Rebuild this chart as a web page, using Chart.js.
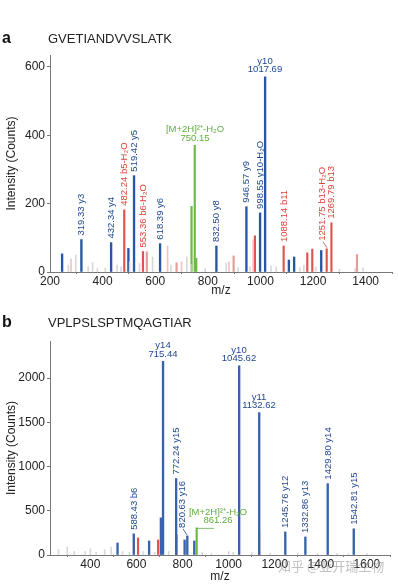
<!DOCTYPE html>
<html><head><meta charset="utf-8">
<script src="https://cdn.jsdelivr.net/npm/chart.js@4/dist/chart.umd.min.js"></script>
<style>
html,body{margin:0;padding:0;background:#fff;width:398px;height:586px;overflow:hidden;position:relative;font-family:"Liberation Sans",Arial,sans-serif;}
canvas{position:absolute;left:0;}
#ca{top:0;} #cb{top:300px;}
.pl{position:absolute;font-weight:bold;font-size:16px;line-height:20px;color:#111;}
.pt{position:absolute;font-size:13px;line-height:16px;color:#222;white-space:nowrap;}
.wm{position:absolute;left:278px;top:557px;font-family:"Noto Sans CJK SC",sans-serif;font-size:13px;line-height:18px;color:rgba(140,140,140,0.55);white-space:nowrap;}
</style></head>
<body>
<canvas id="ca" width="398" height="300"></canvas>
<canvas id="cb" width="398" height="286"></canvas>
<div class="pl" style="left:2px;top:28px">a</div>
<div class="pt" id="titleA" style="left:48px;top:31px"></div>
<div class="pl" style="left:2px;top:312px">b</div>
<div class="pt" id="titleB" style="left:48px;top:315px"></div>
<div class="wm">知乎 @亚开瑞生物</div>
<script>
// ---------- Panel a data ----------
const titleA = "GVETIANDVVSLATK";
const blueMzA  = [246, 319.33, 432.34, 498, 519.42, 618.39, 832.50, 946.57, 998.55, 1017.69, 1108, 1128, 1231];
const blueIntA = [53, 95, 86, 69, 282, 83, 76, 191, 173, 571, 35, 44, 63];
const redMzA   = [482.24, 553.36, 979, 1088.14, 1178, 1197, 1251.75, 1269.79];
const redIntA  = [182, 60, 106, 76, 56, 67, 68, 144];
const lightRedMzA  = [568, 681, 898, 1367];
const lightRedIntA = [59, 27, 47, 51];
const greenMzA  = [738, 750.15, 756];
const greenIntA = [192, 371, 40];
const pinkMzA  = [280, 647, 700, 880, 972];
const pinkIntA = [38, 76, 30, 30, 94];
const greyMzA  = [270, 298, 345, 362, 380, 410, 455, 470, 503, 540, 590, 660, 720, 735, 790, 870, 915, 960, 1040, 1060, 1150, 1165, 1210, 1300, 1360, 1390];
const greyIntA = [20, 50, 15, 27, 10, 12, 20, 15, 30, 25, 44, 20, 44, 22, 10, 26, 12, 15, 18, 15, 12, 20, 15, 8, 10, 12];
const xTicksA = [200, 400, 600, 800, 1000, 1200, 1400];
const yTicksA = [0, 200, 400, 600];
const labMzA   = [319.33, 432.34, 482.24, 519.42, 553.36, 618.39, 750.15, 832.50, 946.57, 998.55, 1017.69, 1088.14, 1251.75, 1269.79];
const labTextA = ["319.33 y3", "432.34 y4", "482.24 b5-H₂O", "519.42 y5", "553.36 b6-H₂O", "618.39 y6", "[M+2H]²⁺-H₂O|750.15", "832.50 y8", "946.57 y9", "998.55 y10-H₂O", "y10|1017.69", "1088.14 b11", "1251.75 b13-H₂O", "1269.79 b13"];
const labColA  = ["b","b","r","b","r","b","g","b","b","b","b","r","r","r"];
const labKindA = ["v","v","v","v","v","v","h","v","v","v","h","v","vs","v"];

// ---------- Panel b data ----------
const titleB = "VPLPSLSPTMQAGTIAR";
const blueMzB  = [518, 588.43, 655, 706, 715.44, 772.24, 809, 820.63, 851, 1045.62, 1132.62, 1245.76, 1332.86, 1429.80, 1542.81];
const blueIntB = [136, 239, 159, 420, 2190, 865, 170, 216, 159, 2140, 1610, 261, 204, 807, 296];
const redMzB   = [607, 694, 774, 1132];
const redIntB  = [193, 170, 230, 260];
const greenMzB  = [861.26];
const greenIntB = [307];
const greyMzB  = [262, 300, 330, 378, 400, 425, 462, 490, 540, 570, 630, 680, 740, 885, 925, 1000, 1020, 1100, 1180, 1300, 1385, 1470, 1520, 1600];
const greyIntB = [60, 90, 40, 40, 70, 30, 60, 90, 40, 30, 40, 30, 40, 30, 20, 40, 30, 30, 20, 20, 20, 20, 15, 20];
const xTicksB = [400, 600, 800, 1000, 1200, 1400, 1600];
const yTicksB = [0, 500, 1000, 1500, 2000];
const labMzB   = [588.43, 715.44, 772.24, 820.63, 861.26, 1045.62, 1132.62, 1245.76, 1332.86, 1429.80, 1542.81];
const labTextB = ["588.43 b6", "y14|715.44", "772.24 y15", "820.63 y16", "[M+2H]²⁺-H₂O|861.26", "y10|1045.62", "y11|1132.62", "1245.76 y12", "1332.86 y13", "1429.80 y14", "1542.81 y15"];
const labColB  = ["b","b","b","b","g","b","b","b","b","b","b"];
const labKindB = ["v","h","v","vs","hl","h","h","v","v","v","v"];

document.getElementById('titleA').textContent = titleA;
document.getElementById('titleB').textContent = titleB;

const FONT = '"Liberation Sans", Arial, sans-serif';
const COL = {b:'#1f4690', r:'#d9443c', g:'#5eae3c'};

function pts(mz, v){ return mz.map((m,i)=>({x:m, y:v[i]})); }
function ds(mz, v, color, w){
  return {data:pts(mz,v), backgroundColor:color, borderWidth:0, barThickness:w, grouped:false};
}

const peakLabels = {
  id:'peakLabels',
  afterDatasetsDraw(chart, args, o){
    const ctx = chart.ctx, xs = chart.scales.x, ys = chart.scales.y;
    const height = {};
    chart.data.datasets.forEach(d=>d.data.forEach(p=>{ if(!(p.x in height) || p.y>height[p.x]) height[p.x]=p.y; }));
    ctx.save();
    ctx.font = '9.5px ' + FONT;
    o.mz.forEach((mz,i)=>{
      const px = Math.round(xs.getPixelForValue(mz));
      const py = ys.getPixelForValue(height[mz]);
      const kind = o.kind[i];
      const color = COL[o.col[i]];
      ctx.fillStyle = color; ctx.strokeStyle = color; ctx.lineWidth = 0.8;
      if(kind==='v' || kind==='vs'){
        let start = py - 4, cx = px + 0.5;
        if(kind==='vs'){
          ctx.beginPath(); ctx.moveTo(px, py-1); ctx.lineTo(px-4, py-7); ctx.stroke();
          start = py - 8; cx = px - 4.5;
        }
        ctx.save(); ctx.translate(cx, start); ctx.rotate(-Math.PI/2);
        ctx.textAlign='left'; ctx.textBaseline='middle';
        ctx.fillText(o.text[i],0,0); ctx.restore();
      } else {
        const lines = o.text[i].split('|');
        let cx = px;
        if(kind==='hl'){
          ctx.beginPath(); ctx.moveTo(px, py+0.5); ctx.lineTo(px+17, py+0.5); ctx.stroke();
          cx = px + 21;
        }
        ctx.textAlign='center'; ctx.textBaseline='middle';
        ctx.fillText(lines[1], cx, py-7);
        ctx.fillText(lines[0], cx, py-15.5);
      }
    });
    ctx.restore();
  }
};

function makeChart(id, sets, xmin, xmax, xTicks, ymax, yTicks, pad, xh, labels){
  return new Chart(document.getElementById(id), {
    type:'bar',
    data:{datasets:sets},
    plugins:[peakLabels],
    options:{
      responsive:false, animation:false, devicePixelRatio:1,
      layout:{padding:pad},
      plugins:{legend:{display:false}, tooltip:{enabled:false}, peakLabels:labels},
      scales:{
        x:{type:'linear', min:xmin, max:xmax, offset:false,
           afterBuildTicks:s=>{ s.ticks = xTicks.map(v=>({value:v})); },
           afterFit:s=>{ s.height = xh; },
           ticks:{color:'#222', font:{family:FONT, size:12}, padding:0, maxRotation:0, autoSkip:false, callback:v=>String(v)},
           grid:{display:true, drawOnChartArea:false, tickLength:2, color:'#777'},
           border:{color:'#777', width:1},
           title:{display:true, text:'m/z', color:'#222', font:{family:FONT, size:12}, padding:{top:0, bottom:1.8}}},
        y:{type:'linear', min:0, max:ymax,
           afterBuildTicks:s=>{ s.ticks = yTicks.map(v=>({value:v})); },
           afterFit:s=>{ s.width = 50; },
           ticks:{color:'#222', font:{family:FONT, size:12}, padding:2, callback:v=>String(v)},
           grid:{display:true, drawOnChartArea:false, tickLength:3, color:'#777'},
           border:{color:'#777', width:1},
           title:{display:true, text:'Intensity (Counts)', color:'#222', font:{family:FONT, size:12}, padding:{top:4.8, bottom:0}}}
      }
    }
  });
}

makeChart('ca', [
  ds(greyMzA, greyIntA, '#d8d8d8', 1),
  ds(pinkMzA, pinkIntA, '#f2c4c4', 1),
  ds(greenMzA, greenIntA, '#6cb847', 1.5),
  ds(blueMzA, blueIntA, '#2856a3', 1.7),
  ds(lightRedMzA, lightRedIntA, '#e99a96', 1.5),
  ds(redMzA, redIntA, '#e0544c', 1.5)
], 200, 1500, xTicksA, 635, yTicksA, {top:55, right:6, left:0, bottom:0}, 28,
  {mz:labMzA, text:labTextA, col:labColA, kind:labKindA});

makeChart('cb', [
  ds(greyMzB, greyIntB, '#d8d8d8', 1),
  ds(greenMzB, greenIntB, '#6cb847', 1.5),
  ds(blueMzB, blueIntB, '#3763ad', 1.7),
  ds(redMzB, redIntB, '#e0544c', 1.5)
], 225, 1700, xTicksB, 2420, yTicksB, {top:41, right:8, left:0, bottom:0}, 31,
  {mz:labMzB, text:labTextB, col:labColB, kind:labKindB});
</script>
</body></html>
